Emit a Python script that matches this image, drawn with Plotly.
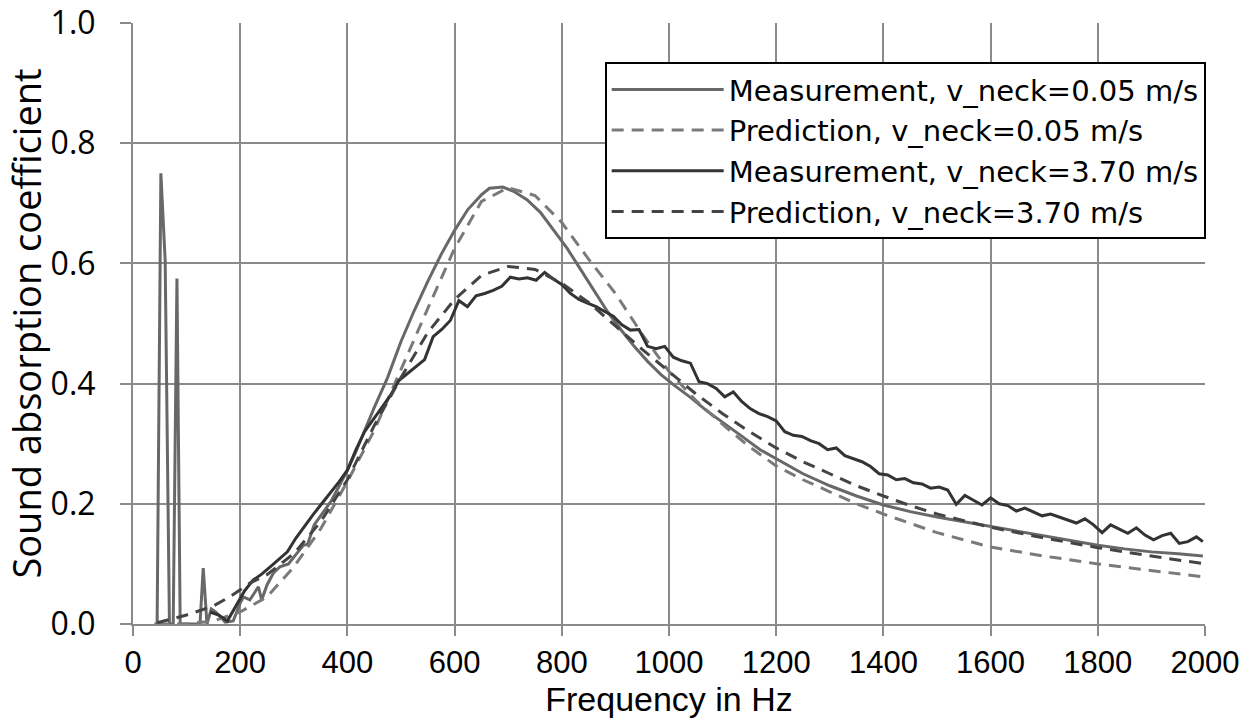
import plotly.graph_objects as go

# ---------------- data ----------------
# Measurement, v_neck = 0.05 m/s
f_meas_005 = [40, 45, 52, 60, 68, 75, 82, 88, 100, 112, 125, 131, 138, 146, 154, 165, 172, 187,
              200, 206, 218, 234, 240, 250, 262, 274, 290, 306, 318, 326, 338, 355, 370, 385,
              400, 415, 430, 450, 475, 500, 525, 550, 575, 600, 625, 650, 665, 690, 710, 735,
              760, 785, 810, 835, 860, 885, 910, 935, 960, 985, 1010, 1040, 1070, 1100, 1135,
              1170, 1200, 1250, 1300, 1350, 1400, 1450, 1500, 1550, 1600, 1650, 1700, 1750,
              1800, 1850, 1900, 1950, 1996]
a_meas_005 = [0.0, 0.0, 0.75, 0.605, 0.0, 0.0, 0.575, 0.0, 0.0, 0.0, 0.0, 0.093, 0.0, 0.025, 0.02,
              0.01, 0.003, 0.005, 0.035, 0.045, 0.04, 0.062, 0.04, 0.065, 0.085, 0.095, 0.1,
              0.118, 0.131, 0.133, 0.165, 0.186, 0.205, 0.23, 0.256, 0.285, 0.318, 0.36, 0.41,
              0.47, 0.522, 0.57, 0.615, 0.655, 0.69, 0.714, 0.725, 0.727, 0.72, 0.706, 0.685,
              0.655, 0.625, 0.59, 0.555, 0.52, 0.49, 0.462, 0.437, 0.415, 0.397, 0.377, 0.355,
              0.335, 0.313, 0.29, 0.275, 0.25, 0.23, 0.213, 0.198, 0.187, 0.178, 0.17, 0.162,
              0.154, 0.146, 0.138, 0.131, 0.125, 0.12, 0.117, 0.113]

# Prediction, v_neck = 0.05 m/s
f_pred_005 = [45, 100, 150, 200, 250, 300, 350, 400, 450, 500, 550, 600, 650, 700, 750, 800,
              850, 900, 950, 1000, 1050, 1100, 1150, 1200, 1250, 1300, 1350, 1400, 1450, 1500,
              1600, 1700, 1800, 1900, 2000]
a_pred_005 = [0.0, 0.0, 0.005, 0.02, 0.045, 0.095, 0.158, 0.237, 0.322, 0.425, 0.525, 0.625,
              0.703, 0.726, 0.713, 0.668, 0.607, 0.55, 0.482, 0.42, 0.372, 0.332, 0.295, 0.263,
              0.24, 0.22, 0.2, 0.183, 0.167, 0.152, 0.128, 0.113, 0.1, 0.089, 0.078]

# Measurement, v_neck = 3.70 m/s
f_meas_370 = [144, 160, 176, 192, 208, 224, 240, 256, 272, 288, 304, 320, 336, 352, 368, 384,
              400, 416, 432, 448, 464, 480, 496, 512, 528, 544, 560, 576, 592, 608, 624, 640,
              656, 672, 688, 704, 720, 736, 752, 768, 784, 800, 816, 832, 848, 864, 880, 896,
              912, 928, 944, 960, 976, 992, 1008, 1024, 1040, 1056, 1072, 1088, 1104, 1120,
              1136, 1152, 1168, 1184, 1200, 1216, 1232, 1248, 1264, 1280, 1296, 1312, 1328,
              1344, 1360, 1376, 1392, 1408, 1424, 1440, 1456, 1472, 1488, 1504, 1520, 1536,
              1552, 1568, 1584, 1600, 1616, 1632, 1648, 1664, 1680, 1696, 1712, 1728, 1744,
              1760, 1776, 1792, 1808, 1824, 1840, 1856, 1872, 1888, 1904, 1920, 1936, 1952,
              1968, 1984, 1996]
a_meas_370 = [0.02, 0.015, 0.005, 0.03, 0.055, 0.073, 0.083, 0.095, 0.108, 0.12, 0.143, 0.163,
              0.182, 0.2, 0.218, 0.236, 0.256, 0.29, 0.32, 0.34, 0.36, 0.38, 0.405, 0.417,
              0.428, 0.44, 0.478, 0.49, 0.505, 0.538, 0.528, 0.546, 0.55, 0.555, 0.562, 0.577,
              0.574, 0.576, 0.572, 0.585, 0.574, 0.565, 0.55, 0.54, 0.534, 0.528, 0.52, 0.512,
              0.498, 0.489, 0.49, 0.462, 0.458, 0.462, 0.444, 0.438, 0.434, 0.403, 0.4, 0.392,
              0.378, 0.386, 0.37, 0.358, 0.35, 0.345, 0.338, 0.32, 0.314, 0.312, 0.305, 0.3,
              0.29, 0.293, 0.28, 0.275, 0.27, 0.262, 0.25, 0.248, 0.24, 0.242, 0.235, 0.233,
              0.226, 0.228, 0.223, 0.199, 0.214, 0.206, 0.198, 0.21, 0.2, 0.197, 0.188, 0.193,
              0.186, 0.18, 0.183, 0.178, 0.172, 0.168, 0.175, 0.165, 0.152, 0.165, 0.158, 0.151,
              0.16, 0.148, 0.14, 0.147, 0.151, 0.134, 0.137, 0.145, 0.137]

# Prediction, v_neck = 3.70 m/s
f_pred_370 = [45, 100, 150, 180, 218, 250, 300, 350, 400, 450, 500, 550, 600, 650, 700, 750,
              800, 850, 900, 950, 1000, 1050, 1100, 1150, 1200, 1250, 1300, 1350, 1400, 1450,
              1500, 1600, 1700, 1800, 1900, 2000]
a_pred_370 = [0.002, 0.015, 0.03, 0.045, 0.068, 0.082, 0.117, 0.17, 0.24, 0.33, 0.41, 0.485,
              0.54, 0.58, 0.595, 0.59, 0.567, 0.535, 0.496, 0.457, 0.42, 0.383, 0.35, 0.32,
              0.293, 0.27, 0.25, 0.23, 0.213, 0.197, 0.183, 0.161, 0.143, 0.127, 0.113, 0.1]

series_names = ["Measurement, v_neck=0.05 m/s", "Prediction, v_neck=0.05 m/s",
                "Measurement, v_neck=3.70 m/s", "Prediction, v_neck=3.70 m/s"]

x_ticks = [0, 200, 400, 600, 800, 1000, 1200, 1400, 1600, 1800, 2000]
y_ticks = [0.0, 0.2, 0.4, 0.6, 0.8, 1.0]

# ---------------- figure ----------------
DASH = "12px,8px"
fig = go.Figure()
fig.add_trace(go.Scatter(x=f_meas_005, y=a_meas_005, mode="lines", name=series_names[0],
                         line=dict(color="#686868", width=3)))
fig.add_trace(go.Scatter(x=f_pred_005, y=a_pred_005, mode="lines", name=series_names[1],
                         line=dict(color="#7a7a7a", width=3, dash=DASH)))
fig.add_trace(go.Scatter(x=f_meas_370, y=a_meas_370, mode="lines", name=series_names[2],
                         line=dict(color="#333333", width=3)))
fig.add_trace(go.Scatter(x=f_pred_370, y=a_pred_370, mode="lines", name=series_names[3],
                         line=dict(color="#444444", width=3, dash=DASH)))

grid = "#8a8a8a"
XFONT = "Liberation Sans Narrow, Arial Narrow, Liberation Sans, sans-serif"
fig.update_layout(
    width=1252, height=720,
    margin=dict(l=133, r=47, t=23, b=96, autoexpand=False),
    paper_bgcolor="white", plot_bgcolor="white",
    font=dict(family="Open Sans, sans-serif", color="black"),
    showlegend=True,
    legend=dict(x=0.44, y=0.935, xanchor="left", yanchor="top",
                bgcolor="white", bordercolor="black", borderwidth=2,
                font=dict(family="DejaVu Sans, sans-serif", size=29, color="black"),
                itemwidth=112, tracegroupgap=0),
    xaxis=dict(range=[0, 2000], tickvals=x_ticks, ticktext=[str(v) for v in x_ticks],
               showgrid=True, gridcolor=grid, gridwidth=2, zeroline=False,
               showline=True, linecolor=grid, linewidth=2,
               ticks="outside", ticklen=10, tickcolor=grid, tickwidth=2,
               tickfont=dict(family=XFONT, size=31),
               title=dict(text="Frequency in Hz", standoff=4,
                          font=dict(family=XFONT, size=34)),
               automargin=False),
    yaxis=dict(range=[0, 1], tickvals=y_ticks, ticktext=["%.1f" % v for v in y_ticks],
               showgrid=True, gridcolor=grid, gridwidth=2, zeroline=False,
               showline=True, linecolor=grid, linewidth=2,
               ticks="outside", ticklen=11, tickcolor=grid, tickwidth=2,
               ticklabelstandoff=18,
               tickfont=dict(family="Open Sans, sans-serif", size=32),
               title=dict(text="Sound absorption coefficient", standoff=2,
                          font=dict(family="Open Sans, sans-serif", size=38)),
               automargin=False),
)

fig.write_html("out.html")
